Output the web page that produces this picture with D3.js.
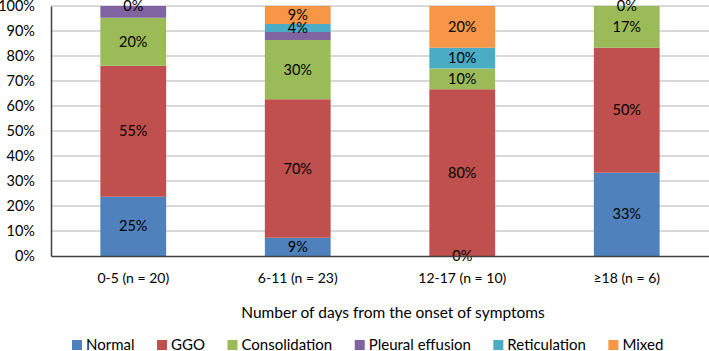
<!DOCTYPE html>
<html><head><meta charset="utf-8">
<script src="https://cdn.jsdelivr.net/npm/d3@7"></script>
<style>body{margin:0;background:#fff}svg{display:block;font-family:Lato,"Open Sans",sans-serif}</style>
</head><body><svg id="c" width="709" height="351"></svg>
<script>
const categories = ["0-5 (n = 20)", "6-11 (n = 23)", "12-17 (n = 10)", "\u226518 (n = 6)"];
const seriesNames = ["Normal", "GGO", "Consolidation", "Pleural effusion", "Reticulation", "Mixed"];
const colors = ["#4F81BD", "#C0504D", "#9BBB59", "#8064A2", "#4BACC6", "#F79646"];
// segment heights (share of bar, %) as drawn
const normal        = [23.7, 7.3, 0, 33.3];
const ggo           = [52.4, 55.4, 66.7, 50.0];
const consolidation = [19.2, 23.7, 8.3, 16.7];
const pleural       = [4.7, 3.2, 0, 0];
const reticulation  = [0, 3.2, 8.3, 0];
const mixed         = [0, 7.2, 16.7, 0];
// printed data labels ("" = none)
const normalLabels        = ["25%", "9%", "0%", "33%"];
const ggoLabels           = ["55%", "70%", "80%", "50%"];
const consolidationLabels = ["20%", "30%", "10%", "17%"];
const pleuralLabels       = ["", "", "", "0%"];
const reticulationLabels  = ["0%", "4%", "10%", ""];
const mixedLabels         = ["", "9%", "20%", ""];
const yTicks = [0, 10, 20, 30, 40, 50, 60, 70, 80, 90, 100];
const xTitle = "Number of days from the onset of symptoms";

const values = [normal, ggo, consolidation, pleural, reticulation, mixed];
const labels = [normalLabels, ggoLabels, consolidationLabels, pleuralLabels, reticulationLabels, mixedLabels];

const svg = d3.select("#c");
const m = {left: 51, right: 0, top: 6, bottom: 95};
const W = 709, H = 351;
const x = d3.scaleBand().domain(categories).range([m.left, W - m.right]).padding(0);
const y = d3.scaleLinear().domain([0, 100]).range([H - m.bottom, m.top]);
const barW = x.bandwidth() * 0.4;

// gridlines
svg.append("g").selectAll("line").data(yTicks.filter(t => t > 0)).join("line")
  .attr("x1", m.left).attr("x2", W).attr("y1", d => y(d)).attr("y2", d => y(d))
  .attr("stroke", "#D9D9D9").attr("stroke-width", 2);

// stacked data
const rows = categories.map((c, i) => {
  const r = {cat: c};
  seriesNames.forEach((s, j) => r[s] = values[j][i]);
  return r;
});
const stacked = d3.stack().keys(seriesNames)(rows);

const g = svg.append("g");
stacked.forEach((layer, j) => {
  g.append("g").attr("fill", colors[j]).selectAll("rect").data(layer).join("rect")
    .attr("x", d => x(d.data.cat) + (x.bandwidth() - barW) / 2)
    .attr("width", barW)
    .attr("y", d => y(d[1]))
    .attr("height", d => y(d[0]) - y(d[1]));
});

// axes
const yAxis = svg.append("g").attr("transform", `translate(${m.left},0)`)
  .call(d3.axisLeft(y).tickValues(yTicks).tickFormat(d => d + "%").tickSize(0).tickPadding(16));
yAxis.select(".domain").attr("stroke", "#404040").attr("stroke-width", 1.5);
yAxis.selectAll("text").attr("font-size", 14.5).attr("fill", "#000").attr("font-family", "Lato");

const xAxis = svg.append("g").attr("transform", `translate(0,${y(0)})`)
  .call(d3.axisBottom(x).tickSize(0).tickPadding(17));
xAxis.select(".domain").attr("stroke", "#404040").attr("stroke-width", 1.5);
xAxis.selectAll("text").attr("font-size", 14).attr("fill", "#000").attr("font-family", "Lato");

// data labels
stacked.forEach((layer, j) => {
  g.append("g").selectAll("text").data(layer).join("text")
    .filter((d, i) => labels[j][i] !== "")
    .attr("x", d => x(d.data.cat) + x.bandwidth() / 2)
    .attr("y", d => y((d[0] + d[1]) / 2))
    .attr("dy", "0.35em")
    .attr("text-anchor", "middle").attr("font-size", 14.5).attr("fill", "#000")
    .text((d, i) => labels[j][categories.indexOf(d.data.cat)]);
});

// axis title
svg.append("text").attr("x", 393).attr("y", 313).attr("dy", "0.35em")
  .attr("text-anchor", "middle").attr("font-size", 15.5).attr("fill", "#000").text(xTitle);

// legend
const leg = svg.append("g").attr("transform", "translate(72,345)");
let lx = 0;
seriesNames.forEach((s, j) => {
  const it = leg.append("g").attr("transform", `translate(${lx},0)`);
  it.append("rect").attr("x", 0).attr("y", -5).attr("width", 10).attr("height", 10).attr("fill", colors[j]);
  const t = it.append("text").attr("x", 14).attr("dy", "0.35em").attr("font-size", 15).attr("fill", "#000").text(s);
  lx += 14 + t.node().getComputedTextLength() + 22.5;
});
</script></body></html>
